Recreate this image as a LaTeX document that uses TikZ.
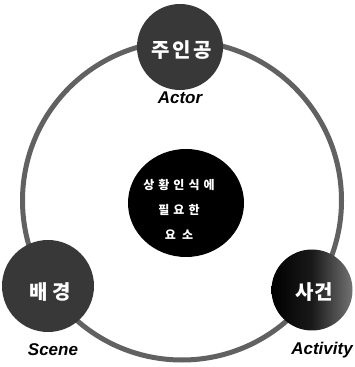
\documentclass[tikz,border=0pt]{standalone}
\usepackage{fontspec}
\usetikzlibrary{shapes.geometric}
\setmainfont{Liberation Sans}
\newfontfamily\krfont{Noto Sans CJK KR}
\begin{document}
\begin{tikzpicture}[x=1pt,y=1pt,
  ringline/.style={draw=black!62, line width=5pt},
  bigdot/.style={circle, fill=black!78, inner sep=0pt},
  kr/.style={text=white, font=\krfont\bfseries\fontsize{20}{22}\selectfont, inner sep=0pt},
  en/.style={text=black, font=\bfseries\itshape\fontsize{17}{19}\selectfont, inner sep=0pt}]
\useasboundingbox (0,0) rectangle (355,367);
\coordinate (rc) at (182,166.5);
\draw[ringline] (rc) circle (159.5);
\node[bigdot, minimum size=86pt] (top) at (180,320) {};
\node[bigdot, minimum size=92pt] (left) at (48,81) {};
\node[circle, minimum size=81pt, inner sep=0pt, left color=black, right color=black!55, middle color=black!90] (right) at (312,77) {};
\node[ellipse, fill=black, minimum width=116pt, minimum height=108pt, inner sep=0pt] (mid) at (186,164) {};
\node[kr] (ttop) at (182,317) {주\hspace{2pt}인\hspace{3pt}공};
\node[kr] (tleft) at (50,75) {배\hspace{5pt}경};
\node[kr] (tright) at (314,75) {사건};
\node[en] (actor) at (180,269) {Actor};
\node[en] (scene) at (53,17) {Scene};
\node[en] (activity) at (322,17) {Activity};
\node[text=white, font=\krfont\bfseries\fontsize{12}{25}\selectfont, align=center, inner sep=0pt] (tmid) at (179,158)
  {상\hspace{4pt}황\hspace{4pt}인\hspace{4pt}식\hspace{4pt}에\\필\hspace{4pt}요\hspace{4pt}한\hspace{22pt}\\요\hspace{6pt}소\hspace{18pt}};
\end{tikzpicture}
\end{document}
